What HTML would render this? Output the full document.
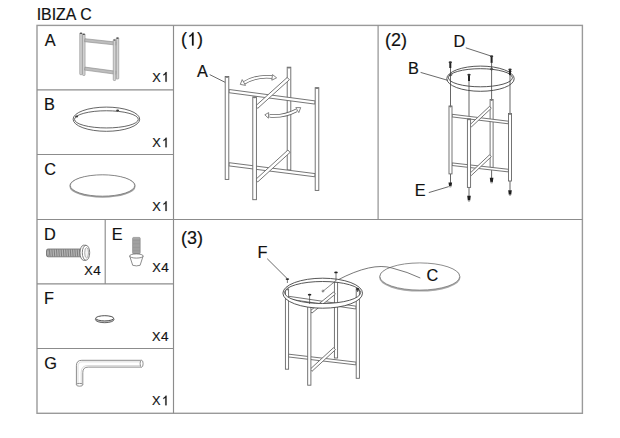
<!DOCTYPE html><html><head><meta charset="utf-8"><style>html,body{margin:0;padding:0;background:#fff;width:620px;height:438px;overflow:hidden}svg{display:block;font-family:"Liberation Sans",sans-serif;fill:#111}</style></head><body>
<svg width="620" height="438" viewBox="0 0 620 438">
<rect x="0" y="0" width="620" height="438" fill="#fff"/>
<g stroke="#9a9a9a" stroke-width="1.4" fill="none">
<rect x="37" y="25.4" width="545.4" height="387.9"/>
</g>
<g stroke="#8c8c8c" stroke-width="1.15" fill="none">
<line x1="173.5" y1="25.4" x2="173.5" y2="413.3"/>
<line x1="378.1" y1="25.4" x2="378.1" y2="219.5"/>
<line x1="173.5" y1="219.5" x2="582.4" y2="219.5"/>
<line x1="37" y1="89.8" x2="173.5" y2="89.8"/>
<line x1="37" y1="154.5" x2="173.5" y2="154.5"/>
<line x1="37" y1="219.5" x2="173.5" y2="219.5"/>
<line x1="37" y1="283.9" x2="173.5" y2="283.9"/>
<line x1="37" y1="348.5" x2="173.5" y2="348.5"/>
<line x1="105.2" y1="219.5" x2="105.2" y2="283.9"/>
</g>
<rect x="79.75" y="32.70" width="2.5" height="42.00" rx="0.8" fill="#d2d2d2" stroke="#8a8a8a" stroke-width="0.6"/>
<ellipse cx="81.00" cy="33.40" rx="1.15" ry="0.7" fill="#555"/>
<rect x="82.55" y="33.70" width="2.5" height="41.80" rx="0.8" fill="#d2d2d2" stroke="#8a8a8a" stroke-width="0.6"/>
<ellipse cx="83.80" cy="34.40" rx="1.15" ry="0.7" fill="#555"/>
<polygon points="84.64,41.69 116.14,45.09 116.46,42.11 84.96,38.71" fill="#bdbdbd" stroke="#8a8a8a" stroke-width="0.6"/>
<polygon points="84.60,70.09 116.10,74.29 116.50,71.31 85.00,67.11" fill="#bdbdbd" stroke="#8a8a8a" stroke-width="0.6"/>
<rect x="116.25" y="37.50" width="2.5" height="41.50" rx="0.8" fill="#d2d2d2" stroke="#8a8a8a" stroke-width="0.6"/>
<ellipse cx="117.50" cy="38.20" rx="1.15" ry="0.7" fill="#555"/>
<rect x="113.25" y="39.40" width="2.5" height="41.10" rx="0.8" fill="#d2d2d2" stroke="#8a8a8a" stroke-width="0.6"/>
<ellipse cx="114.50" cy="40.10" rx="1.15" ry="0.7" fill="#555"/>
<ellipse cx="106.4" cy="119.2" rx="33.3" ry="12.1" fill="none" stroke="#555" stroke-width="0.9"/>
<ellipse cx="106.4" cy="119.35" rx="31.9" ry="8.6" fill="none" stroke="#555" stroke-width="0.9"/>
<ellipse cx="76.6" cy="116.4" rx="1.5" ry="1" fill="#3a3a3a"/><ellipse cx="117.6" cy="110.6" rx="1.5" ry="1" fill="#3a3a3a"/>
<ellipse cx="102.5" cy="186.2" rx="32.2" ry="10.6" fill="#fff" stroke="#a0a0a0" stroke-width="1.8"/>
<ellipse cx="102.5" cy="185.5" rx="32.2" ry="10.7" fill="#fff" stroke="#777" stroke-width="0.85"/>
<rect x="46.5" y="249" width="35" height="7.8" rx="1.6" fill="#b4b4b4" stroke="#6a6a6a" stroke-width="0.8"/>
<g stroke="#666" stroke-width="0.7">
<line x1="49.60" y1="249.4" x2="50.10" y2="256.4"/>
<line x1="51.90" y1="249.4" x2="52.40" y2="256.4"/>
<line x1="54.20" y1="249.4" x2="54.70" y2="256.4"/>
<line x1="56.50" y1="249.4" x2="57.00" y2="256.4"/>
<line x1="58.80" y1="249.4" x2="59.30" y2="256.4"/>
<line x1="61.10" y1="249.4" x2="61.60" y2="256.4"/>
<line x1="63.40" y1="249.4" x2="63.90" y2="256.4"/>
<line x1="65.70" y1="249.4" x2="66.20" y2="256.4"/>
<line x1="68.00" y1="249.4" x2="68.50" y2="256.4"/>
<line x1="70.30" y1="249.4" x2="70.80" y2="256.4"/>
<line x1="72.60" y1="249.4" x2="73.10" y2="256.4"/>
<line x1="74.90" y1="249.4" x2="75.40" y2="256.4"/>
<line x1="77.20" y1="249.4" x2="77.70" y2="256.4"/>
<line x1="79.50" y1="249.4" x2="80.00" y2="256.4"/>
</g>
<ellipse cx="48" cy="252.9" rx="1.3" ry="3.4" fill="none" stroke="#777" stroke-width="0.6"/>
<ellipse cx="83.6" cy="252.75" rx="3.6" ry="7.5" fill="#fff" stroke="#707070" stroke-width="0.9"/>
<rect x="83.6" y="245.25" width="2.4" height="15" fill="#fff" stroke="none"/>
<line x1="83.6" y1="245.25" x2="86" y2="245.25" stroke="#707070" stroke-width="0.9"/>
<line x1="83.6" y1="260.25" x2="86" y2="260.25" stroke="#707070" stroke-width="0.9"/>
<ellipse cx="86" cy="252.75" rx="3.7" ry="7.5" fill="#fff" stroke="#707070" stroke-width="0.9"/>
<ellipse cx="86.6" cy="252.75" rx="1.9" ry="5.2" fill="#f4f4f4" stroke="#8a8a8a" stroke-width="0.7"/>
<rect x="132.6" y="237.4" width="7.6" height="16.4" rx="1" fill="#b0b0b0" stroke="#808080" stroke-width="0.6"/>
<g stroke="#7a7a7a" stroke-width="0.45">
<line x1="132.9" y1="239.20" x2="139.9" y2="239.20"/>
<line x1="132.9" y1="240.60" x2="139.9" y2="240.60"/>
<line x1="132.9" y1="242.00" x2="139.9" y2="242.00"/>
<line x1="132.9" y1="243.40" x2="139.9" y2="243.40"/>
<line x1="132.9" y1="244.80" x2="139.9" y2="244.80"/>
<line x1="132.9" y1="246.20" x2="139.9" y2="246.20"/>
<line x1="132.9" y1="247.60" x2="139.9" y2="247.60"/>
<line x1="132.9" y1="249.00" x2="139.9" y2="249.00"/>
<line x1="132.9" y1="250.40" x2="139.9" y2="250.40"/>
<line x1="132.9" y1="251.80" x2="139.9" y2="251.80"/>
<line x1="132.9" y1="253.20" x2="139.9" y2="253.20"/>
</g>
<path d="M129.7,256 L132.7,265.3 Q136.4,266.5 140.1,265.3 L143.1,256 Z" fill="#fff" stroke="#707070" stroke-width="0.8"/>
<ellipse cx="136.4" cy="256" rx="6.8" ry="2.1" fill="#fff" stroke="#707070" stroke-width="0.8"/>
<ellipse cx="104.7" cy="319.5" rx="9.3" ry="3.2" fill="#ccc" stroke="#555" stroke-width="0.9"/>
<ellipse cx="104.7" cy="318.3" rx="9" ry="2.6" fill="#fff" stroke="#444" stroke-width="0.9"/>
<path d="M141.5,360.3 L81.8,360.3 Q76.4,360.3 76.4,365.7 L76.4,384.8 M141.5,367.1 L88.2,367.1 Q82.8,367.1 82.8,372.5 L82.8,384.8" fill="none" stroke="#777" stroke-width="0.85"/>
<path d="M141,361.9 L82.2,361.9 Q78,361.9 78,366.1 L78,384.2 M141,365.5 L88,365.5 Q81.2,365.5 81.2,372.3 L81.2,384.2" fill="none" stroke="#c4c4c4" stroke-width="0.6"/>
<ellipse cx="141.6" cy="363.7" rx="1.5" ry="3.4" fill="#fff" stroke="#777" stroke-width="0.8"/>
<ellipse cx="79.6" cy="384.8" rx="3.2" ry="1.4" fill="#fff" stroke="#777" stroke-width="0.8"/>
<line x1="209.7" y1="74.6" x2="225.5" y2="82.5" stroke="#444" stroke-width="0.8"/>
<rect x="287.20" y="67.20" width="3.60" height="102.80" fill="#fff" stroke="#666" stroke-width="0.9"/>
<ellipse cx="289.00" cy="67.80" rx="1.80" ry="0.8" fill="#777" stroke="none"/>
<polygon points="228.79,92.69 314.79,104.09 315.21,100.91 229.21,89.51" fill="#fff" stroke="#666" stroke-width="0.9"/>
<polygon points="228.80,165.89 314.80,176.79 315.20,173.61 229.20,162.71" fill="#fff" stroke="#666" stroke-width="0.9"/>
<rect x="225.20" y="76.50" width="3.60" height="102.90" fill="#fff" stroke="#666" stroke-width="0.9"/>
<ellipse cx="227.00" cy="77.10" rx="1.80" ry="0.8" fill="#777" stroke="none"/>
<rect x="315.20" y="87.70" width="3.60" height="102.70" fill="#fff" stroke="#666" stroke-width="0.9"/>
<ellipse cx="317.00" cy="88.30" rx="1.80" ry="0.8" fill="#777" stroke="none"/>
<polygon points="257.67,108.39 289.37,79.79 287.23,77.41 255.53,106.01" fill="#fff" stroke="#666" stroke-width="0.9"/>
<polygon points="257.68,181.98 290.08,152.38 287.92,150.02 255.52,179.62" fill="#fff" stroke="#666" stroke-width="0.9"/>
<rect x="252.80" y="96.90" width="3.60" height="102.80" fill="#fff" stroke="#666" stroke-width="0.9"/>
<ellipse cx="254.60" cy="97.50" rx="1.80" ry="0.8" fill="#777" stroke="none"/>
<path d="M243.5,83.2 Q256,75.3 272,77" fill="none" stroke="#666" stroke-width="3.6"/>
<path d="M243.5,83.2 Q256,75.3 272,77" fill="none" stroke="#fff" stroke-width="2.0"/>
<polygon points="240.3,84.4 242.2,79.6 245.5,85.4" fill="#fff" stroke="#666" stroke-width="0.8" stroke-linejoin="miter"/>
<polygon points="276.6,77.8 272.5,74.6 271.8,80.2" fill="#fff" stroke="#666" stroke-width="0.8" stroke-linejoin="miter"/>
<path d="M269.5,115.8 Q284,117 296.5,110.3" fill="none" stroke="#666" stroke-width="3.6"/>
<path d="M269.5,115.8 Q284,117 296.5,110.3" fill="none" stroke="#fff" stroke-width="2.0"/>
<polygon points="264.8,114.8 268.7,112.6 268.4,118.2" fill="#fff" stroke="#666" stroke-width="0.8" stroke-linejoin="miter"/>
<polygon points="300.7,107.6 295.8,107.6 298.8,112.6" fill="#fff" stroke="#666" stroke-width="0.8" stroke-linejoin="miter"/>
<line x1="420.6" y1="72.4" x2="447.7" y2="80.3" stroke="#444" stroke-width="0.8"/>
<line x1="465.8" y1="47.8" x2="490.6" y2="55.9" stroke="#444" stroke-width="0.8"/>
<line x1="428.8" y1="192.6" x2="448.8" y2="186.6" stroke="#444" stroke-width="0.8"/>
<g stroke="#4a4a4a" stroke-width="0.85">
<line x1="450.5" y1="68" x2="450.5" y2="106"/>
<line x1="491.6" y1="62.9" x2="491.6" y2="99.5"/>
<line x1="469" y1="81" x2="469" y2="118.9"/>
<line x1="510" y1="75.2" x2="510" y2="113.5"/>
<line x1="450.5" y1="173.9" x2="450.5" y2="183"/>
<line x1="491.6" y1="167.4" x2="491.6" y2="178"/>
<line x1="469" y1="187.4" x2="469" y2="196"/>
<line x1="510" y1="181" x2="510" y2="190.5"/>
</g>
<g fill="none" stroke="#444" stroke-width="0.9">
<ellipse cx="480.5" cy="78.7" rx="33.7" ry="12.6"/>
<ellipse cx="480.4" cy="77.75" rx="32" ry="9.05"/>
</g>
<ellipse cx="450.8" cy="74.8" rx="1.2" ry="0.9" fill="none" stroke="#333" stroke-width="0.7"/>
<ellipse cx="491.6" cy="69.1" rx="1.2" ry="0.9" fill="none" stroke="#333" stroke-width="0.7"/>
<ellipse cx="510" cy="71.5" rx="1.2" ry="0.9" fill="none" stroke="#333" stroke-width="0.7"/>
<rect x="490.10" y="99.50" width="3.00" height="67.90" fill="#fff" stroke="#666" stroke-width="0.9"/>
<ellipse cx="491.60" cy="100.10" rx="1.50" ry="0.8" fill="#777" stroke="none"/>
<polygon points="451.84,116.89 508.24,123.79 508.56,121.21 452.16,114.31" fill="#fff" stroke="#666" stroke-width="0.9"/>
<polygon points="451.85,165.49 508.25,171.89 508.55,169.31 452.15,162.91" fill="#fff" stroke="#666" stroke-width="0.9"/>
<rect x="449.00" y="106.00" width="3.00" height="67.90" fill="#fff" stroke="#666" stroke-width="0.9"/>
<ellipse cx="450.50" cy="106.60" rx="1.50" ry="0.8" fill="#777" stroke="none"/>
<rect x="508.50" y="113.50" width="3.00" height="67.50" fill="#fff" stroke="#666" stroke-width="0.9"/>
<ellipse cx="510.00" cy="114.10" rx="1.50" ry="0.8" fill="#777" stroke="none"/>
<polygon points="471.39,126.95 491.29,108.25 489.51,106.35 469.61,125.05" fill="#fff" stroke="#666" stroke-width="0.9"/>
<polygon points="471.39,175.45 491.29,156.75 489.51,154.85 469.61,173.55" fill="#fff" stroke="#666" stroke-width="0.9"/>
<rect x="467.40" y="118.90" width="3.20" height="68.50" fill="#fff" stroke="#666" stroke-width="0.9"/>
<ellipse cx="469.00" cy="119.50" rx="1.60" ry="0.8" fill="#777" stroke="none"/>
<rect x="449.3" y="62.6" width="2" height="5.400000000000001" fill="#222"/>
<ellipse cx="450.3" cy="62.3" rx="1.7" ry="1" fill="#333"/>
<rect x="490.6" y="56.6" width="2" height="6.3" fill="#222"/>
<ellipse cx="491.6" cy="56.3" rx="1.7" ry="1" fill="#333"/>
<rect x="509" y="69.9" width="2" height="5.3" fill="#222"/>
<ellipse cx="510" cy="69.60000000000001" rx="1.7" ry="1" fill="#333"/>
<rect x="468" y="75.10000000000001" width="2" height="5.899999999999994" fill="#222"/>
<ellipse cx="469" cy="74.80000000000001" rx="1.7" ry="1" fill="#333"/>
<path d="M448.5,182.4 L452.1,182.4 L451.5,186.29999999999998 Q450.3,187.0 449.1,186.29999999999998 Z" fill="#1e1e1e"/>
<ellipse cx="450.3" cy="186.7" rx="1.1" ry="0.9" fill="#aaa"/>
<path d="M489.8,177.7 L493.40000000000003,177.7 L492.8,182.29999999999998 Q491.6,183.0 490.40000000000003,182.29999999999998 Z" fill="#1e1e1e"/>
<ellipse cx="491.6" cy="182.7" rx="1.1" ry="0.9" fill="#aaa"/>
<path d="M467.2,195.8 L470.8,195.8 L470.2,200.5 Q469,201.20000000000002 467.8,200.5 Z" fill="#1e1e1e"/>
<ellipse cx="469" cy="200.9" rx="1.1" ry="0.9" fill="#aaa"/>
<path d="M508.2,190.2 L511.8,190.2 L511.2,194.7 Q510,195.4 508.8,194.7 Z" fill="#1e1e1e"/>
<ellipse cx="510" cy="195.1" rx="1.1" ry="0.9" fill="#aaa"/>
<line x1="267.2" y1="258.7" x2="287.2" y2="278.6" stroke="#444" stroke-width="0.8"/>
<ellipse cx="419.8" cy="277.3" rx="39.8" ry="13.4" fill="#fff" stroke="#a8a8a8" stroke-width="1.8"/>
<ellipse cx="419.8" cy="276.5" rx="39.9" ry="13.6" fill="#fff" stroke="#777" stroke-width="0.8"/>
<path d="M337.5,280.1 Q372,262 392,268 Q408,272 420.3,278" fill="none" stroke="#555" stroke-width="0.8"/>
<rect x="334.40" y="281.00" width="3.20" height="77.00" fill="#fff" stroke="#666" stroke-width="0.9"/>
<ellipse cx="336.00" cy="281.60" rx="1.60" ry="0.8" fill="#777" stroke="none"/>
<polygon points="287.80,298.99 355.80,308.99 356.20,306.21 288.20,296.21" fill="#fff" stroke="#666" stroke-width="0.9"/>
<polygon points="287.84,356.89 355.84,364.89 356.16,362.11 288.16,354.11" fill="#fff" stroke="#666" stroke-width="0.9"/>
<rect x="285.40" y="289.00" width="3.20" height="80.20" fill="#fff" stroke="#666" stroke-width="0.9"/>
<ellipse cx="287.00" cy="289.60" rx="1.60" ry="0.8" fill="#777" stroke="none"/>
<rect x="356.20" y="290.00" width="3.20" height="88.30" fill="#fff" stroke="#666" stroke-width="0.9"/>
<ellipse cx="357.80" cy="290.60" rx="1.60" ry="0.8" fill="#777" stroke="none"/>
<polygon points="311.88,313.09 335.38,294.09 333.62,291.91 310.12,310.91" fill="#fff" stroke="#666" stroke-width="0.9"/>
<polygon points="311.95,371.33 335.45,349.73 333.55,347.67 310.05,369.27" fill="#fff" stroke="#666" stroke-width="0.9"/>
<rect x="307.70" y="303.00" width="3.20" height="82.20" fill="#fff" stroke="#666" stroke-width="0.9"/>
<ellipse cx="309.30" cy="303.60" rx="1.60" ry="0.8" fill="#777" stroke="none"/>
<path d="M282.9,293.2 A39.8,15 0 1 0 362.5,293.2 A39.8,15 0 1 0 282.9,293.2 Z M284.6,292.5 A38,11 0 1 0 360.6,292.5 A38,11 0 1 0 284.6,292.5 Z" fill="#fff" fill-rule="evenodd" stroke="#444" stroke-width="0.9"/>
<line x1="322.3" y1="291.8" x2="336" y2="280.6" stroke="#555" stroke-width="0.7"/>
<circle cx="323" cy="291" r="1" fill="none" stroke="#555" stroke-width="0.6"/>
<line x1="287.4" y1="279.1" x2="287.4" y2="283" stroke="#444" stroke-width="0.7"/>
<ellipse cx="287.4" cy="279.1" rx="1.8" ry="0.9" fill="#222"/>
<line x1="336" y1="272.4" x2="336" y2="280.9" stroke="#444" stroke-width="0.7"/>
<ellipse cx="336" cy="272.4" rx="1.8" ry="0.9" fill="#222"/>
<line x1="309.6" y1="294.7" x2="309.6" y2="304" stroke="#444" stroke-width="0.7"/>
<ellipse cx="309.6" cy="294.7" rx="1.8" ry="0.9" fill="#222"/>
<line x1="357.5" y1="288.9" x2="357.5" y2="292" stroke="#444" stroke-width="0.7"/>
<ellipse cx="357.5" cy="288.9" rx="1.8" ry="0.9" fill="#222"/>
<text x="36.7" y="19.7" font-size="15.9" text-anchor="start" letter-spacing="0" word-spacing="0.3" stroke="#111" stroke-width="0.18">IBIZA C</text>
<text x="44.8" y="45.8" font-size="16.3" text-anchor="start" letter-spacing="0" word-spacing="0" stroke="#111" stroke-width="0.18">A</text>
<text x="44" y="110.3" font-size="16.3" text-anchor="start" letter-spacing="0" word-spacing="0" stroke="#111" stroke-width="0.18">B</text>
<text x="44.3" y="175" font-size="16.3" text-anchor="start" letter-spacing="0" word-spacing="0" stroke="#111" stroke-width="0.18">C</text>
<text x="43.9" y="239.9" font-size="16.3" text-anchor="start" letter-spacing="0" word-spacing="0" stroke="#111" stroke-width="0.18">D</text>
<text x="111.8" y="239.6" font-size="16.3" text-anchor="start" letter-spacing="0" word-spacing="0" stroke="#111" stroke-width="0.18">E</text>
<text x="43.9" y="304.4" font-size="16.3" text-anchor="start" letter-spacing="0" word-spacing="0" stroke="#111" stroke-width="0.18">F</text>
<text x="44.2" y="369" font-size="16.3" text-anchor="start" letter-spacing="0" word-spacing="0" stroke="#111" stroke-width="0.18">G</text>
<text x="152.2" y="81.7" font-size="13.5" textLength="8.5" lengthAdjust="spacingAndGlyphs" stroke="#111" stroke-width="0.18">X</text>
<path d="M166.64,81.70 L166.64,72.03 L165.72,72.03 L165.32,72.86 L164.44,73.73 L163.43,74.34 L163.43,75.49 L164.30,75.02 L165.43,74.14 L165.43,81.70 Z" fill="#111" stroke="#111" stroke-width="0.2"/>
<text x="152.2" y="147.3" font-size="13.5" textLength="8.5" lengthAdjust="spacingAndGlyphs" stroke="#111" stroke-width="0.18">X</text>
<path d="M166.64,147.30 L166.64,137.63 L165.72,137.63 L165.32,138.46 L164.44,139.34 L163.43,139.94 L163.43,141.09 L164.30,140.62 L165.43,139.74 L165.43,147.30 Z" fill="#111" stroke="#111" stroke-width="0.2"/>
<text x="152.2" y="211" font-size="13.5" textLength="8.5" lengthAdjust="spacingAndGlyphs" stroke="#111" stroke-width="0.18">X</text>
<path d="M166.64,211.00 L166.64,201.33 L165.72,201.33 L165.32,202.16 L164.44,203.03 L163.43,203.64 L163.43,204.79 L164.30,204.32 L165.43,203.44 L165.43,211.00 Z" fill="#111" stroke="#111" stroke-width="0.2"/>
<text x="84.3" y="275.4" font-size="13.5" textLength="8.5" lengthAdjust="spacingAndGlyphs" stroke="#111" stroke-width="0.18">X</text>
<text x="93.30449999999999" y="275.4" font-size="13.5" text-anchor="start" letter-spacing="0" word-spacing="0" stroke="#111" stroke-width="0.18">4</text>
<text x="152.2" y="271.8" font-size="13.5" textLength="8.5" lengthAdjust="spacingAndGlyphs" stroke="#111" stroke-width="0.18">X</text>
<text x="161.2045" y="271.8" font-size="13.5" text-anchor="start" letter-spacing="0" word-spacing="0" stroke="#111" stroke-width="0.18">4</text>
<text x="151.9" y="340.5" font-size="13.5" textLength="8.5" lengthAdjust="spacingAndGlyphs" stroke="#111" stroke-width="0.18">X</text>
<text x="160.9045" y="340.5" font-size="13.5" text-anchor="start" letter-spacing="0" word-spacing="0" stroke="#111" stroke-width="0.18">4</text>
<text x="152.1" y="405.3" font-size="13.5" textLength="8.5" lengthAdjust="spacingAndGlyphs" stroke="#111" stroke-width="0.18">X</text>
<path d="M166.54,405.30 L166.54,395.63 L165.62,395.63 L165.22,396.46 L164.34,397.34 L163.33,397.94 L163.33,399.09 L164.20,398.62 L165.33,397.74 L165.33,405.30 Z" fill="#111" stroke="#111" stroke-width="0.2"/>
<text x="180.9" y="45.4" font-size="18" text-anchor="start" letter-spacing="0" word-spacing="0" stroke="#111" stroke-width="0.18">(</text>
<path d="M193.61,45.40 L193.61,32.51 L192.38,32.51 L191.84,33.61 L190.67,34.78 L189.32,35.59 L189.32,37.12 L190.49,36.49 L191.99,35.32 L191.99,45.40 Z" fill="#111" stroke="#111" stroke-width="0.2"/>
<text x="196.90200000000002" y="45.4" font-size="18" text-anchor="start" letter-spacing="0" word-spacing="0" stroke="#111" stroke-width="0.18">)</text>
<text x="384.9" y="45.7" font-size="18" text-anchor="start" letter-spacing="0" word-spacing="0" stroke="#111" stroke-width="0.18">(</text>
<text x="390.894" y="45.7" font-size="18" text-anchor="start" letter-spacing="0" word-spacing="0" stroke="#111" stroke-width="0.18">2</text>
<text x="400.902" y="45.7" font-size="18" text-anchor="start" letter-spacing="0" word-spacing="0" stroke="#111" stroke-width="0.18">)</text>
<text x="180.9" y="243.7" font-size="18" text-anchor="start" letter-spacing="0" word-spacing="0" stroke="#111" stroke-width="0.18">(</text>
<text x="186.894" y="243.7" font-size="18" text-anchor="start" letter-spacing="0" word-spacing="0" stroke="#111" stroke-width="0.18">3</text>
<text x="196.90200000000002" y="243.7" font-size="18" text-anchor="start" letter-spacing="0" word-spacing="0" stroke="#111" stroke-width="0.18">)</text>
<text x="197" y="76.6" font-size="16.3" text-anchor="start" letter-spacing="0" word-spacing="0" stroke="#111" stroke-width="0.18">A</text>
<text x="453.6" y="47.4" font-size="16.3" text-anchor="start" letter-spacing="0" word-spacing="0" stroke="#111" stroke-width="0.18">D</text>
<text x="408.1" y="73.7" font-size="16.3" text-anchor="start" letter-spacing="0" word-spacing="0" stroke="#111" stroke-width="0.18">B</text>
<text x="414.7" y="196.3" font-size="16.3" text-anchor="start" letter-spacing="0" word-spacing="0" stroke="#111" stroke-width="0.18">E</text>
<text x="257.5" y="257.6" font-size="16.3" text-anchor="start" letter-spacing="0" word-spacing="0" stroke="#111" stroke-width="0.18">F</text>
<text x="426.4" y="281.2" font-size="16.3" text-anchor="start" letter-spacing="0" word-spacing="0" stroke="#111" stroke-width="0.18">C</text>
</svg></body></html>
